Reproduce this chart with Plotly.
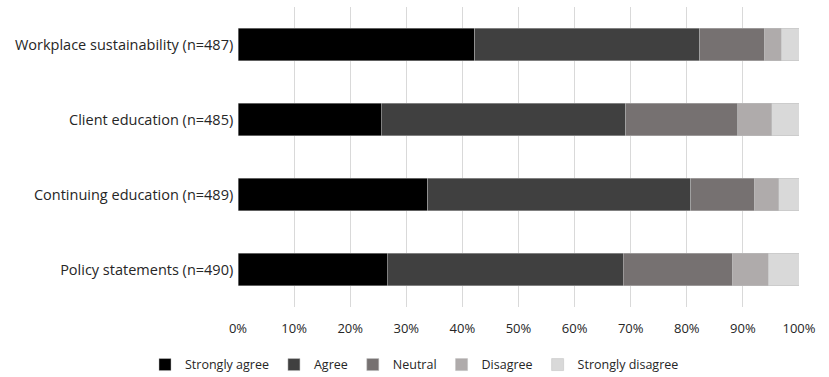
import plotly.graph_objects as go

categories = ["Workplace sustainability (n=487)", "Client education (n=485)",
              "Continuing education (n=489)", "Policy statements (n=490)"]
strongly_agree = [42.2, 25.5, 33.8, 26.6]
agree = [40.1, 43.6, 46.9, 42.1]
neutral = [11.5, 20.0, 11.3, 19.4]
disagree = [3.0, 6.0, 4.4, 6.4]
strongly_disagree = [3.2, 4.9, 3.6, 5.5]
series_names = ["Strongly agree", "Agree", "Neutral", "Disagree", "Strongly disagree"]
tick_vals = [0, 10, 20, 30, 40, 50, 60, 70, 80, 90, 100]
tick_text = [f"{v}%" for v in tick_vals]

colors = ["#000000", "#404040", "#767171", "#AFABAB", "#D9D9D9"]
series = [strongly_agree, agree, neutral, disagree, strongly_disagree]

fig = go.Figure()
for name, vals, col in zip(series_names, series, colors):
    fig.add_trace(go.Bar(
        y=categories, x=vals, name=name, orientation="h",
        marker=dict(color=col, line=dict(color="#BFBFBF", width=0.5)),
        width=0.43,
    ))

fig.update_layout(
    barmode="stack",
    width=829, height=377,
    margin=dict(l=238, r=30, t=7, b=70),
    plot_bgcolor="white", paper_bgcolor="white",
    font=dict(family="Open Sans", size=12.5, color="#262626"),
    xaxis=dict(range=[0, 100], tickvals=tick_vals, ticktext=tick_text,
               showgrid=True, gridcolor="#D9D9D9", gridwidth=1,
               zeroline=False, showline=False, ticks="", ticklen=0,
               ticklabelstandoff=12, tickfont=dict(size=13)),
    yaxis=dict(categoryorder="array", categoryarray=categories,
               autorange="reversed", showgrid=False, ticks="",
               ticksuffix=" ", tickfont=dict(size=14.5)),
    legend=dict(orientation="h", xref="container", x=0.5, xanchor="center",
                yref="container", y=0.032, yanchor="middle",
                font=dict(size=12.5), itemwidth=30, traceorder="normal"),
    bargap=0.57,
)

fig.write_html("out.html", config={"displayModeBar": False},
               post_script="document.body.style.margin='0';document.body.style.padding='0';")
